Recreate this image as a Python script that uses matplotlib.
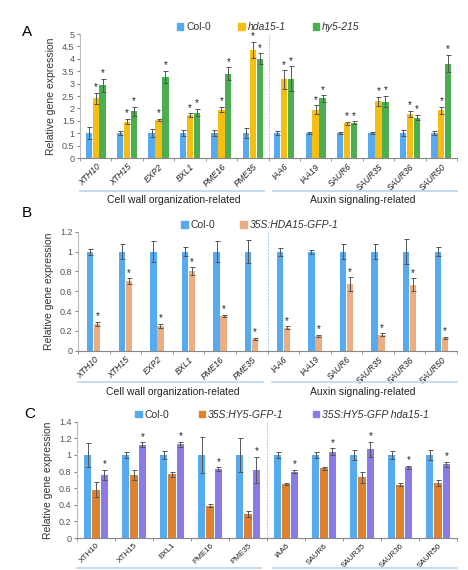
import matplotlib
matplotlib.use("Agg")
import matplotlib.pyplot as plt
from matplotlib.patches import Patch
from matplotlib.ticker import FuncFormatter, FixedLocator
import numpy as np

plt.rcParams['font.family'] = ['Liberation Sans', 'DejaVu Sans']

# ---- panel A data ----
genes_a = ['XTH10', 'XTH15', 'EXP2', 'BXL1', 'PME16', 'PME35',
           'IAA6', 'IAA19', 'SAUR6', 'SAUR35', 'SAUR36', 'SAUR50']
a_col = [1.0, 1.0, 1.0, 1.0, 1.0, 1.0, 1.0, 1.0, 1.0, 1.0, 1.0, 1.0]
a_col_err = [0.25, 0.07, 0.17, 0.12, 0.12, 0.2, 0.07, 0.05, 0.03, 0.05, 0.12, 0.07]
a_hda = [2.4, 1.47, 1.53, 1.73, 1.95, 4.35, 3.17, 1.95, 1.4, 2.28, 1.77, 1.92]
a_hda_err = [0.23, 0.1, 0.05, 0.07, 0.1, 0.33, 0.37, 0.17, 0.05, 0.18, 0.12, 0.13]
a_hy5 = [2.93, 1.88, 3.27, 1.83, 3.4, 4.0, 3.2, 2.4, 1.42, 2.27, 1.63, 3.8]
a_hy5_err = [0.27, 0.17, 0.25, 0.15, 0.25, 0.22, 0.5, 0.13, 0.06, 0.23, 0.1, 0.35]

# ---- panel B data ----
b_col = [1.0] * 12
b_col_err = [0.03, 0.08, 0.11, 0.05, 0.11, 0.12, 0.04, 0.02, 0.08, 0.08, 0.13, 0.05]
b_oe = [0.27, 0.7, 0.25, 0.8, 0.35, 0.12, 0.23, 0.15, 0.67, 0.16, 0.665, 0.13]
b_oe_err = [0.02, 0.03, 0.02, 0.04, 0.015, 0.01, 0.015, 0.01, 0.07, 0.015, 0.065, 0.01]

# ---- panel C data ----
genes_c = ['XTH10', 'XTH15', 'BXL1', 'PME16', 'PME35',
           'IAA6', 'SAUR6', 'SAUR35', 'SAUR36', 'SAUR50']
c_col = [1.0] * 10
c_col_err = [0.14, 0.04, 0.05, 0.22, 0.2, 0.04, 0.04, 0.06, 0.05, 0.06]
c_hy5 = [0.58, 0.76, 0.77, 0.39, 0.29, 0.65, 0.84, 0.73, 0.64, 0.66]
c_hy5_err = [0.09, 0.06, 0.03, 0.02, 0.04, 0.015, 0.02, 0.07, 0.02, 0.04]
c_hda = [0.76, 1.12, 1.13, 0.83, 0.82, 0.80, 1.04, 1.07, 0.85, 0.89]
c_hda_err = [0.06, 0.03, 0.03, 0.02, 0.16, 0.02, 0.04, 0.09, 0.02, 0.03]

BLUE = '#56aaf0'
YELLOW = '#f6be12'
GREEN = '#4caf4f'
PEACH = '#eaae80'
ORANGE = '#e0812f'
PURPLE = '#8a7ce8'
LINE = '#b9d4ee'

W, H = 468, 570
fig = plt.figure(figsize=(W / 100, H / 100), dpi=100)


def draw_panel(rect, genes, series, ymax, ystep, letter, italic, split, groups,
               leg_x, colsp, tick_fs):
    ax = fig.add_axes(rect)
    n = len(genes)
    k = len(series)
    x = np.arange(n)
    w = 0.2
    for i, (vals, errs, color, label, star) in enumerate(series):
        pos = x + (i - (k - 1) / 2) * (w + 0.02)
        ax.bar(pos, vals, w, color=color, label=label, zorder=2)
        ax.errorbar(pos, vals, yerr=errs, fmt='none', ecolor='#555555',
                    elinewidth=0.7, capsize=1.8, capthick=0.7, zorder=3)
        if star:
            for p, v, e in zip(pos, vals, errs):
                ax.text(p, v + e + ymax * 0.005, '*', ha='center', va='bottom',
                        fontsize=7, color='#222222')
    ax.set_xlim(-0.5, n - 0.5)
    ax.set_ylim(0, ymax)
    ax.yaxis.set_major_locator(FixedLocator(np.arange(0, ymax + ystep / 2, ystep)))
    ax.yaxis.set_major_formatter(FuncFormatter(lambda v, p: '%g' % round(v, 2)))
    ax.set_xticks(x)
    ax.set_xticklabels(genes, rotation=45, ha='right', rotation_mode='anchor',
                       fontsize=tick_fs, style='italic' if italic else 'normal',
                       color='#222222')
    ax.set_xticks(np.arange(-0.5, n, 1), minor=True)
    ax.tick_params(axis='x', which='major', length=0, pad=3)
    ax.tick_params(axis='x', which='minor', length=2.5, color='#888888')
    ax.tick_params(axis='y', labelsize=6.5, labelcolor='#555555', length=2,
                   color='#888888', pad=2)
    for s in ['top', 'right']:
        ax.spines[s].set_visible(False)
    ax.spines['left'].set_color('#bbbbbb')
    ax.spines['bottom'].set_color('#888888')
    ax.set_ylabel('Relative gene expression', fontsize=7.5, color='#333333', labelpad=4)
    ax.axvline(split - 0.5, color=LINE, lw=0.8, ls=(0, (2, 1)), zorder=1)

    handles = [Patch(color=s[2]) for s in series]
    labels = [s[3] for s in series]
    leg = ax.legend(handles, labels, loc='lower center', bbox_to_anchor=(leg_x, 0.98),
                    ncol=k, frameon=False, fontsize=7.5, handlelength=0.6,
                    handleheight=0.6, handletextpad=0.3, columnspacing=colsp,
                    borderaxespad=0)
    for t in leg.get_texts()[1:]:
        t.set_style('italic')
    for t in leg.get_texts():
        t.set_color('#333333')

    fig.text(letter[1] / W, 1 - letter[2] / H, letter[0], fontsize=11,
             ha='left', va='center')

    ly, ty = groups
    tr = ax.get_xaxis_transform()
    ax.plot([-0.5, split - 0.65], [ly, ly], transform=tr, color=LINE, lw=1.2,
            clip_on=False)
    ax.plot([split - 0.35, n - 0.5], [ly, ly], transform=tr, color=LINE, lw=1.2,
            clip_on=False)
    if ty is not None:
        ax.text((split - 1) / 2, ty, 'Cell wall organization-related', transform=tr,
                ha='center', va='center', fontsize=7.5, color='#222222')
        ax.text((split + n - 1) / 2, ty, 'Auxin signaling-related', transform=tr,
                ha='center', va='center', fontsize=7.5, color='#222222')
    return ax


# A
draw_panel([80 / W, 1 - 158 / H, 377 / W, 124 / H], genes_a,
           [(a_col, a_col_err, BLUE, 'Col-0', False),
            (a_hda, a_hda_err, YELLOW, 'hda15-1', True),
            (a_hy5, a_hy5_err, GREEN, 'hy5-215', True)],
           5, 0.5, ('A', 22, 32), True, 6, (-0.266, -0.34), 0.5, 2.6, 6.2)

# B
draw_panel([78 / W, 1 - 350.7 / H, 379 / W, 119 / H], genes_a,
           [(b_col, b_col_err, BLUE, 'Col-0', False),
            (b_oe, b_oe_err, PEACH, '35S:HDA15-GFP-1', True)],
           1.2, 0.2, ('B', 22, 213), True, 6, (-0.263, -0.35), 0.48, 2.4, 6.2)

# C
draw_panel([77 / W, 1 - 538 / H, 380 / W, 116.3 / H], genes_c,
           [(c_col, c_col_err, BLUE, 'Col-0', False),
            (c_hy5, c_hy5_err, ORANGE, '35S:HY5-GFP-1', False),
            (c_hda, c_hda_err, PURPLE, '35S:HY5-GFP hda15-1', True)],
           1.4, 0.2, ('C', 24, 414), False, 5, (-0.26, None), 0.54, 2.8, 5.8)

fig.savefig('out.png', dpi=100)
